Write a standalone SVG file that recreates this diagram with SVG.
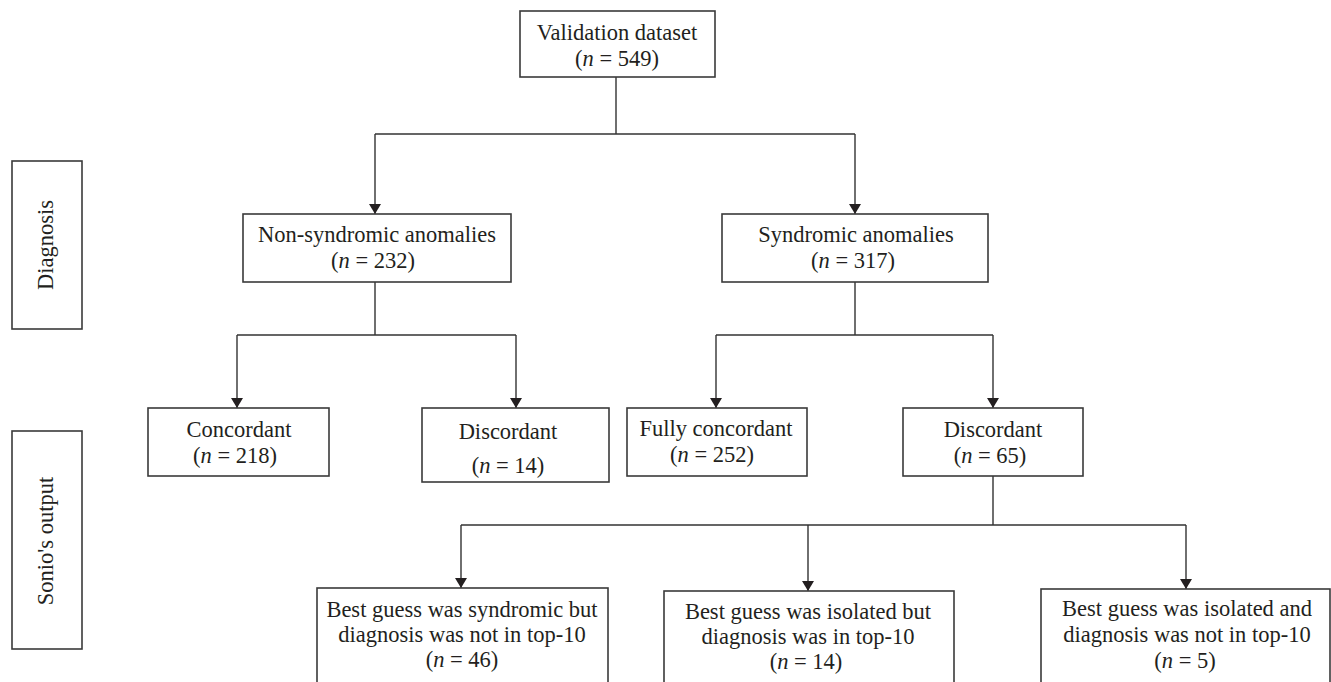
<svg xmlns="http://www.w3.org/2000/svg" width="1331" height="682" viewBox="0 0 1331 682">
<defs>
<marker id="arr" viewBox="0 -6 10 12" markerWidth="10" markerHeight="12" refX="10" refY="0" orient="auto" markerUnits="userSpaceOnUse">
<path d="M0,-6 L10,0 L0,6 z" fill="#231f20"/>
</marker>
<style>
.box{fill:#fff;stroke:#3a3a3a;stroke-width:1.6}
.t{font-family:"Liberation Serif","Times New Roman",serif;font-size:22.5px;fill:#231f20;text-anchor:middle}
.c{fill:none;stroke:#333;stroke-width:1.4}
.i{font-style:italic}
</style>
</defs>
<rect width="1331" height="682" fill="#fff"/>
<g id="connectors">
<path class="c" d="M616,77 V134 M375,134 H855 M375,282 V335 M237,335 H516 M855,282 V335 M716,335 H993 M993,476 V525 M461,525 H1186"/>
<path class="c" d="M375,134 V214" marker-end="url(#arr)"/>
<path class="c" d="M855,134 V214" marker-end="url(#arr)"/>
<path class="c" d="M237,335 V408" marker-end="url(#arr)"/>
<path class="c" d="M516,335 V408" marker-end="url(#arr)"/>
<path class="c" d="M716,335 V408" marker-end="url(#arr)"/>
<path class="c" d="M993,335 V408" marker-end="url(#arr)"/>
<path class="c" d="M461,525 V588" marker-end="url(#arr)"/>
<path class="c" d="M808,525 V591" marker-end="url(#arr)"/>
<path class="c" d="M1186,525 V589" marker-end="url(#arr)"/>
</g>
<g id="label-diagnosis">
<rect class="box" x="12" y="161" width="70" height="168"/>
<text class="t" transform="translate(53,245) rotate(-90)">Diagnosis</text>
</g>
<g id="label-sonio">
<rect class="box" x="12" y="431" width="70" height="218"/>
<text class="t" transform="translate(53,541) rotate(-90)">Sonio's output</text>
</g>
<g id="validation">
<rect class="box" x="520" y="11" width="195" height="66"/>
<text class="t" x="617" y="39.5">Validation dataset</text>
<text class="t" x="617" y="65.5">(<tspan class="i">n</tspan> = 549)</text>
</g>
<g id="nonsyndromic">
<rect class="box" x="243" y="214" width="268" height="68"/>
<text class="t" x="377" y="242">Non-syndromic anomalies</text>
<text class="t" x="373" y="268">(<tspan class="i">n</tspan> = 232)</text>
</g>
<g id="syndromic">
<rect class="box" x="722" y="214" width="266" height="68"/>
<text class="t" x="856" y="242">Syndromic anomalies</text>
<text class="t" x="853" y="268">(<tspan class="i">n</tspan> = 317)</text>
</g>
<g id="concordant">
<rect class="box" x="148" y="408" width="181" height="68"/>
<text class="t" x="239" y="437">Concordant</text>
<text class="t" x="235" y="463">(<tspan class="i">n</tspan> = 218)</text>
</g>
<g id="discordant-left">
<rect class="box" x="422" y="408" width="187" height="74"/>
<text class="t" x="508" y="439">Discordant</text>
<text class="t" x="508" y="473">(<tspan class="i">n</tspan> = 14)</text>
</g>
<g id="fully-concordant">
<rect class="box" x="627" y="408" width="180" height="68"/>
<text class="t" x="716" y="436">Fully concordant</text>
<text class="t" x="712" y="462">(<tspan class="i">n</tspan> = 252)</text>
</g>
<g id="discordant-right">
<rect class="box" x="903" y="408" width="180" height="68"/>
<text class="t" x="993" y="437">Discordant</text>
<text class="t" x="990" y="463">(<tspan class="i">n</tspan> = 65)</text>
</g>
<g id="best-syndromic">
<rect class="box" x="317" y="588" width="291" height="110"/>
<text class="t" x="462" y="617">Best guess was syndromic but</text>
<text class="t" x="462" y="642">diagnosis was not in top-10</text>
<text class="t" x="462" y="667">(<tspan class="i">n</tspan> = 46)</text>
</g>
<g id="best-isolated-in">
<rect class="box" x="664" y="591" width="290" height="110"/>
<text class="t" x="808" y="619">Best guess was isolated but</text>
<text class="t" x="808" y="644">diagnosis was in top-10</text>
<text class="t" x="806" y="669">(<tspan class="i">n</tspan> = 14)</text>
</g>
<g id="best-isolated-not">
<rect class="box" x="1041" y="589" width="289" height="110"/>
<text class="t" x="1187" y="616">Best guess was isolated and</text>
<text class="t" x="1187" y="642">diagnosis was not in top-10</text>
<text class="t" x="1185" y="668">(<tspan class="i">n</tspan> = 5)</text>
</g>
</svg>
